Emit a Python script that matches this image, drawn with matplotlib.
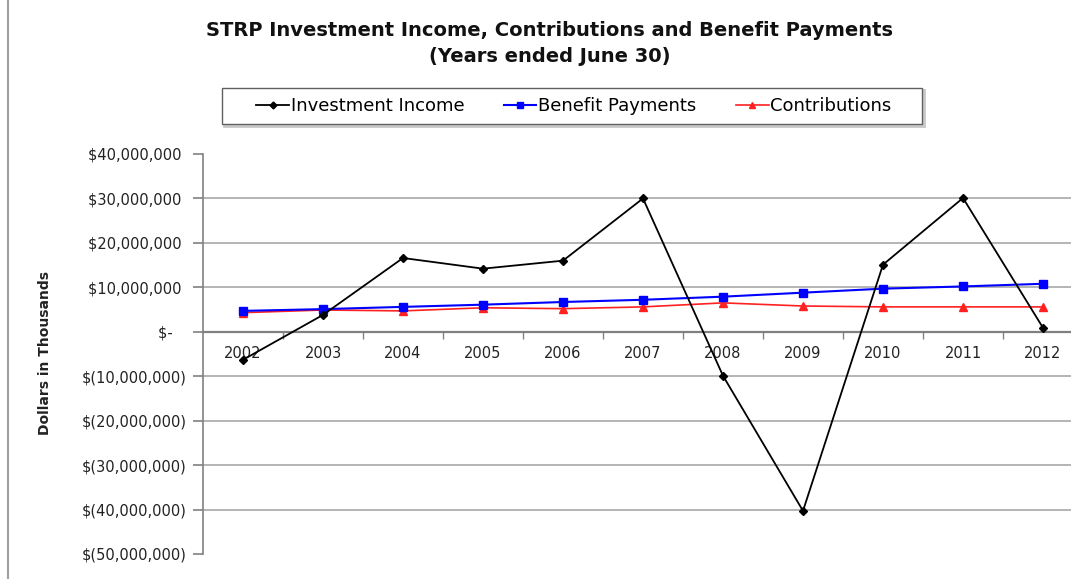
import matplotlib
matplotlib.use("Agg")
import matplotlib.pyplot as plt
from matplotlib.lines import Line2D
from matplotlib.patches import Rectangle
from matplotlib.ticker import FixedLocator, FuncFormatter

years = ["2002", "2003", "2004", "2005", "2006", "2007", "2008", "2009", "2010", "2011", "2012"]
investment_income = [-6.3e6, 3.8e6, 16.6e6, 14.2e6, 16.0e6, 30.0e6, -9.9e6, -40.3e6, 15.1e6, 30.1e6, 0.9e6]
benefit_payments = [4.7e6, 5.1e6, 5.6e6, 6.1e6, 6.7e6, 7.2e6, 7.9e6, 8.8e6, 9.7e6, 10.2e6, 10.8e6]
contributions = [4.3e6, 4.9e6, 4.7e6, 5.4e6, 5.2e6, 5.6e6, 6.5e6, 5.8e6, 5.6e6, 5.6e6, 5.6e6]
y_ticks = [-50e6, -40e6, -30e6, -20e6, -10e6, 0, 10e6, 20e6, 30e6, 40e6]

W, H = 1071, 579
fig = plt.figure(figsize=(W / 100, H / 100), dpi=100)
plt.rcParams['font.family'] = ['DejaVu Sans']

left, right, top, bottom = 203, 1083, 154, 554
ax = fig.add_axes([left / W, 1 - bottom / H, (right - left) / W, (bottom - top) / H])

x = list(range(len(years)))
ax.plot(x, contributions, color="#ff2020", lw=1.2, marker="^", ms=5.5, label="Contributions", zorder=3)
ax.plot(x, benefit_payments, color="#0000ff", lw=1.5, marker="s", ms=5.5, label="Benefit Payments", zorder=4)
ax.plot(x, investment_income, color="black", lw=1.3, marker="D", ms=4.5, label="Investment Income", zorder=5)

ax.set_xlim(-0.5, len(years) - 0.5)
ax.set_ylim(-50e6, 40e6)

for v in y_ticks:
    if v == 0 or v == 40e6 or v == -50e6:
        continue
    ax.axhline(v, color="#a8a8a8", lw=1.2, zorder=1)
ax.axhline(0, color="#808080", lw=1.6, zorder=2)

def fmt(v, pos):
    if v == 0:
        return "$-   "
    if v < 0:
        return "$({:,.0f})".format(-v)
    return "${:,.0f} ".format(v)

ax.yaxis.set_major_locator(FixedLocator(y_ticks))
ax.yaxis.set_major_formatter(FuncFormatter(fmt))
ax.tick_params(axis="y", which="major", length=7, width=1.2, color="#808080",
               labelsize=10.5, labelcolor="#222222", pad=5)

ax.spines["top"].set_visible(False)
ax.spines["right"].set_visible(False)
ax.spines["left"].set_color("#808080")
ax.spines["left"].set_linewidth(1.2)
ax.spines["bottom"].set_position(("data", 0))
ax.spines["bottom"].set_visible(False)

ax.set_xticks(x)
ax.set_xticklabels(years)
ax.set_xticks([i + 0.5 for i in range(len(years) - 1)], minor=True)
ax.tick_params(axis="x", which="major", length=0, labelsize=10.5, labelcolor="#222222", pad=10)
ax.tick_params(axis="x", which="minor", length=5, width=1, color="#808080")

fig.text(45 / W, 1 - 353 / H, "Dollars in Thousands", rotation=90, ha="center", va="center",
         fontsize=10, fontweight="bold", color="#222222")

fig.text(550 / W, 1 - 31 / H, "STRP Investment Income, Contributions and Benefit Payments",
         ha="center", va="center", fontsize=14, fontweight="bold", color="#111111")
fig.text(550 / W, 1 - 56 / H, "(Years ended June 30)",
         ha="center", va="center", fontsize=14, fontweight="bold", color="#111111")

# legend frame box (drawn separately for exact placement)
fig.add_artist(Rectangle((224 / W, 1 - 126 / H), 700 / W, 36 / H, transform=fig.transFigure,
                         facecolor="none", edgecolor="#c8c8c8", lw=2.0, zorder=0))
fig.add_artist(Rectangle((222 / W, 1 - 124 / H), 700 / W, 36 / H, transform=fig.transFigure,
                         facecolor="white", edgecolor="#606060", lw=1.0, zorder=1))

handles, labels = ax.get_legend_handles_labels()
order = [2, 1, 0]
leg_handles = [
    Line2D([], [], color="black", lw=1.3, marker="D", ms=3.5),
    Line2D([], [], color="#0000ff", lw=1.5, marker="s", ms=4.5),
    Line2D([], [], color="#ff2020", lw=1.2, marker="^", ms=4.5),
]
leg = fig.legend(leg_handles, [labels[i] for i in order],
                 loc="center", bbox_to_anchor=(574 / W, 1 - 106 / H), ncol=3,
                 fontsize=13, frameon=False, handlelength=1.8,
                 handletextpad=0.1, columnspacing=2.2, borderpad=0.0)
leg.set_zorder(2)

fig.add_artist(Line2D([8 / W, 8 / W], [0, 1], transform=fig.transFigure, color="#a0a0a0", lw=1.5))

fig.savefig("out.png", dpi=100)
